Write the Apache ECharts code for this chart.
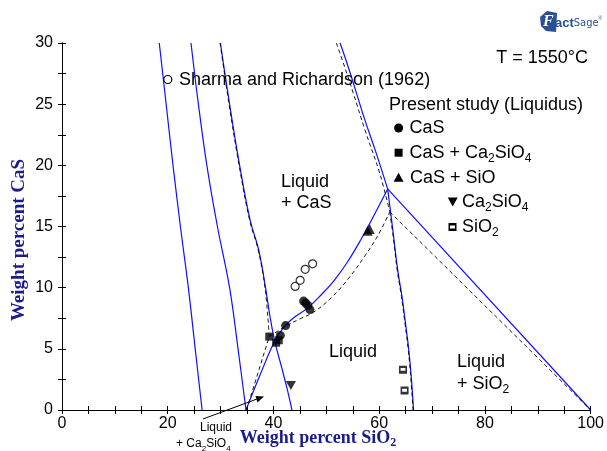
<!DOCTYPE html>
<html><head><meta charset="utf-8">
<script src="https://cdn.jsdelivr.net/npm/echarts@6/dist/echarts.min.js"></script>
<style>html,body{margin:0;padding:0;background:#fff}#c{width:607px;height:451px}</style>
</head><body><div id="c"></div>
<script>
// ---- data (wt% SiO2, wt% CaS) ----
const xTicks = [0, 20, 40, 60, 80, 100];
const yTicks = [0, 5, 10, 15, 20, 25, 30];
// FactSage calculated boundaries (blue)
const blueLine1 = [[18.4,30],[19.7,25],[21.0,20],[22.4,15],[23.9,10],[25.2,5],[26.5,0]];
const blueLine2 = [[24.4,30],[25.8,25],[27.4,20],[29.4,15],[31.7,10],[33.3,5],[34.8,0]];
const blueLine3 = [[29.96,30],[31.7,25],[33.6,20],[35.6,15.5],[37.2,13.1],[38.5,10],[39.4,7.5],[40.3,5.5],[41.6,3.4],[42.6,1.7],[43.5,0]];
const blueCaSLiq = [[52.6,30],[54.1,28.1],[55.7,25.9],[57.3,23.7],[59.2,21.3],[61.6,18.07]];
const blueSiO2Liq = [[61.6,18.07],[62.5,15],[63.5,11.45],[64.3,9.3],[65.0,7],[65.6,4.9],[66.1,2.5],[66.5,0]];
const blueTie = [[61.6,18.07],[100,0]];
const blueRise = [[34.8,0],[37.5,2.9],[40.2,5.6],[42,6.8],[44,7.6],[46.5,8.35],[49,9.4],[51.5,10.6],[54,12.1],[56.5,13.9],[59,15.9],[61.6,18.07]];
// previous assessment (black dashed)
const dashA = [[29.9,30],[31.6,25],[33.5,20],[35.5,15.5],[37.1,13.1],[38.4,10],[39.2,6.0]];
const dashB = [[34.9,0],[39.2,6.0]];
const dashC = [[39.2,6.0],[42.3,6.85],[45,7.45],[47.6,8.0],[51,9.2],[54.1,10.7],[57.3,12.6],[59.8,14.3],[62.0,16.2]];
const dashD = [[51.9,30],[53.5,28],[55.1,25.9],[57.3,22.9],[60.1,19.35],[62.0,16.2]];
const dashE = [[62.0,16.2],[62.7,14],[63.4,11.45],[64.2,9.3],[64.9,7],[65.5,4.9],[66.0,2.5],[66.4,0]];
const dashF = [[62.0,16.2],[100,0]];
// experimental points
const sharma = [[44.1,10.1],[45.05,10.6],[46.0,11.5],[47.4,11.95]];
const ptsCaS = [[45.7,8.9],[46.1,8.75],[46.5,8.55],[46.9,8.2],[42.3,6.9],[41.3,6.1]];
const ptsCaSCa2SiO4 = [[39.2,6.0],[40.5,5.5],[41.0,5.7]];
const ptsCaSSiO = [[57.8,14.65],[58.2,14.8]];
const ptsCa2SiO4 = [[43.3,2.0]];
const ptsSiO2 = [[64.5,3.3],[64.8,1.6]];

const BLUE = '#1010ff';
const SANS = 'Liberation Sans, Arial, sans-serif';
const SERIF = 'Liberation Serif, Times New Roman, serif';
const NAVY = '#1b1b8a';
const LOGO = '#2b4f96';
const FS = 18;
const SIO2_PATH = 'path://M0,0 L10,0 L10,10 L0,10 Z M2,3 L2,6.5 L8,6.5 L8,3 Z';

function blue(d,sm){return {type:'line',data:d,symbol:'none',smooth:sm||0,lineStyle:{color:BLUE,width:1.2},silent:true,z:2};}
function dash(d,sm){return {type:'line',data:d,symbol:'none',smooth:sm||0,lineStyle:{color:'#000',width:0.9,type:[4,3]},silent:true,z:3};}
function pts(d,sym,size,style){return {type:'scatter',data:d,symbol:sym,symbolSize:size,itemStyle:style,z:5,silent:true};}

const chart = echarts.init(document.getElementById('c'), null, {renderer:'canvas'});
function T(x,y,text,opts){return {type:'text',x:x,y:y,z:10,style:Object.assign({text:text,fill:'#000',font:FS+'px '+SANS,textAlign:'left',textVerticalAlign:'middle'},opts||{})};}
function RT(x,y,text,size){
  return {type:'text',x:x,y:y,z:10,style:{text:text,textAlign:'left',textVerticalAlign:'middle',rich:{
    m:{fontSize:size,lineHeight:size+5,fontFamily:SANS,fill:'#000'},
    s:{fontSize:Math.round(size*0.68),lineHeight:Math.round(size*0.68),verticalAlign:'bottom',fontFamily:SANS,fill:'#000'}}}};
}
const tickCommon = {axisLine:{lineStyle:{color:'#000',width:1}},axisTick:{inside:true,length:4,lineStyle:{color:'#000'}},splitLine:{show:false}};
chart.setOption({
  animation:false,
  grid:{left:62,right:13,top:43,bottom:41,show:false},
  xAxis:[Object.assign({type:'value',min:0,max:100,interval:20,position:'bottom',
      minorTick:{show:true,splitNumber:4,length:4,lineStyle:{color:'#000'}},
      axisLabel:{color:'#000',fontSize:16,fontFamily:SANS,margin:6,formatter:v=>xTicks.includes(v)?String(v):''}},tickCommon),
    Object.assign({type:'value',min:0,max:100,interval:20,position:'top',
      minorTick:{show:true,splitNumber:4,length:4,lineStyle:{color:'#000'}},axisLabel:{show:false}},tickCommon)],
  yAxis:[Object.assign({type:'value',min:0,max:30,interval:5,position:'left',
      minorTick:{show:true,splitNumber:2,length:4,lineStyle:{color:'#000'}},
      axisLabel:{color:'#000',fontSize:16,fontFamily:SANS,margin:9,formatter:v=>yTicks.includes(v)?String(v):''}},tickCommon),
    Object.assign({type:'value',min:0,max:30,interval:5,position:'right',
      minorTick:{show:true,splitNumber:2,length:4,lineStyle:{color:'#000'}},axisLabel:{show:false}},tickCommon)],
  series:[
    blue(blueLine1,0.4),blue(blueLine2,0.4),blue(blueLine3,0.4),blue(blueCaSLiq,0.4),blue(blueSiO2Liq,0.4),blue(blueTie),blue(blueRise,0.4),
    dash(dashA,0.4),dash(dashB),dash(dashC,0.4),dash(dashD,0.4),dash(dashE,0.4),dash(dashF),
    pts(sharma,'circle',8,{color:'#fff',borderColor:'#000',borderWidth:1.2}),
    pts(ptsCaS,'circle',9,{color:'#000'}),
    pts(ptsCaSCa2SiO4,'rect',8,{color:'#000'}),
    pts(ptsCaSSiO,'triangle',10,{color:'#000'}),
    pts(ptsCa2SiO4,'path://M0,0 L10,0 L5,9 Z',[10,9],{color:'#000'}),
    pts(ptsSiO2,SIO2_PATH,8,{color:'#000'})
  ],
  graphic:[
    // logo
    {type:'polygon',z:9,shape:{points:[[540,17],[547,11],[557,13],[556,32],[546,31],[541,26]]},style:{fill:LOGO}},
    {type:'text',x:543,y:22,z:10,style:{text:'F',font:'italic bold 16px '+SERIF,fill:'#fff',textVerticalAlign:'middle'}},
    {type:'text',x:555,y:23,z:10,style:{text:'{f|act}{s|Sage}{t|®}',textVerticalAlign:'middle',rich:{
      f:{fontSize:13,fontWeight:'bold',fontFamily:SANS,fill:LOGO},
      s:{fontSize:11,fontFamily:'DejaVu Sans Condensed, '+SANS,fill:LOGO},
      t:{fontSize:5,verticalAlign:'top',fill:LOGO}}}},
    T(588,58,'T = 1550°C',{textAlign:'right'}),
    {type:'circle',shape:{cx:167.8,cy:79.5,r:4},style:{fill:'#fff',stroke:'#000',lineWidth:1.2},z:10},
    T(179,80,'Sharma and Richardson (1962)'),
    T(389,105,'Present study (Liquidus)'),
    {type:'circle',shape:{cx:398.6,cy:128,r:4.5},style:{fill:'#000'},z:10},
    T(409.5,128,'CaS'),
    {type:'rect',shape:{x:394.6,y:148.7,width:8,height:8},style:{fill:'#000'},z:10},
    RT(409.5,153,'{m|CaS + Ca}{s|2}{m|SiO}{s|4}',FS),
    {type:'polygon',shape:{points:[[398.6,172.7],[403.6,181.7],[393.6,181.7]]},style:{fill:'#000'},z:10},
    T(410,178,'CaS + SiO'),
    {type:'polygon',shape:{points:[[447.7,197.5],[457.7,197.5],[452.7,206.5]]},style:{fill:'#000'},z:10},
    RT(462,202,'{m|Ca}{s|2}{m|SiO}{s|4}',FS),
    {type:'rect',shape:{x:448.5,y:223,width:8,height:8},style:{fill:'#000'},z:10},
    {type:'rect',shape:{x:450,y:225.5,width:5,height:3},style:{fill:'#fff'},z:11},
    RT(462,227,'{m|SiO}{s|2}',FS),
    // region labels
    T(281,182,'Liquid'), T(281,203,'+ CaS'),
    T(329,352,'Liquid'),
    T(457,362,'Liquid'), RT(457,384,'{m|+ SiO}{s|2}',FS),
    T(200,428,'Liquid',{font:'12px '+SANS}),
    RT(176,444,'{m|+ Ca}{s|2}{m|SiO}{s|4}',12),
    // arrow
    {type:'line',shape:{x1:203,y1:419,x2:257,y2:399},style:{stroke:'#000',lineWidth:1},z:10},
    {type:'polygon',shape:{points:[[264,396.5],[255.5,396],[257.5,402.5]]},style:{fill:'#000'},z:10},
    // axis titles
    {type:'text',x:318,y:438,z:10,style:{text:'{m|Weight percent SiO}{s|2}',textAlign:'center',textVerticalAlign:'middle',rich:{
      m:{fontSize:18,lineHeight:22,fontWeight:'bold',fontFamily:SERIF,fill:NAVY},
      s:{fontSize:12,lineHeight:12,verticalAlign:'bottom',fontWeight:'bold',fontFamily:SERIF,fill:NAVY}}}},
    {type:'text',x:19,y:240,rotation:Math.PI/2,z:10,style:{text:'Weight percent CaS',textAlign:'center',textVerticalAlign:'middle',
      font:'bold 19px '+SERIF,fill:NAVY}}
  ]
});
</script></body></html>
